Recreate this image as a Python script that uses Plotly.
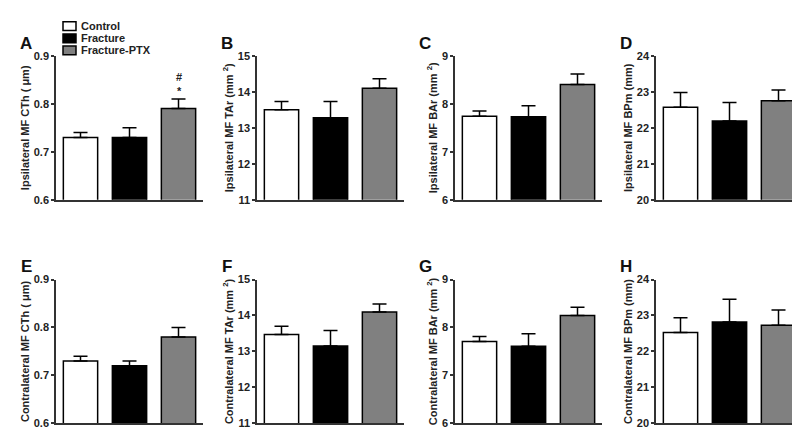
import plotly.graph_objects as go

groups = ["Control", "Fracture", "Fracture-PTX"]
bar_colors = ["#ffffff", "#000000", "#808080"]

panel_letters = ["A", "B", "C", "D", "E", "F", "G", "H"]
y_titles = [
    "Ipsilateral MF CTh ( μm)",
    "Ipsilateral MF TAr (mm <sup>2</sup>)",
    "Ipsilateral MF BAr (mm <sup>2</sup>)",
    "Ipsilateral MF BPm (mm)",
    "Contralateral MF CTh ( μm)",
    "Contralateral MF TAr (mm <sup>2</sup>)",
    "Contralateral MF BAr (mm <sup>2</sup>)",
    "Contralateral MF BPm (mm)",
]
y_ranges = [[0.6, 0.9], [11, 15], [6, 9], [20, 24], [0.6, 0.9], [11, 15], [6, 9], [20, 24]]
y_dticks = [0.1, 1, 1, 1, 0.1, 1, 1, 1]

means = [
    [0.73, 0.73, 0.79],
    [13.50, 13.28, 14.10],
    [7.74, 7.73, 8.40],
    [22.57, 22.19, 22.75],
    [0.73, 0.72, 0.78],
    [13.47, 13.15, 14.10],
    [7.71, 7.61, 8.25],
    [22.53, 22.82, 22.73],
]
sems = [
    [0.01, 0.02, 0.02],
    [0.23, 0.45, 0.26],
    [0.11, 0.23, 0.22],
    [0.41, 0.51, 0.30],
    [0.01, 0.01, 0.02],
    [0.23, 0.43, 0.22],
    [0.10, 0.26, 0.17],
    [0.41, 0.63, 0.42],
]
sig_panel = 0
sig_group = 2
sig_text = "#<br>*"

W, H = 800, 437
col_left = [48, 249, 447, 648]
plot_w = 147
row_top = [43, 273]
plot_h = 148

FONT = "Liberation Sans, Arial, sans-serif"
AX = "#333333"

fig = go.Figure()
layout = {}
for i in range(8):
    r, c = divmod(i, 4)
    xa = "x" if i == 0 else f"x{i+1}"
    ya = "y" if i == 0 else f"y{i+1}"
    x0 = col_left[c] / W
    x1 = (col_left[c] + plot_w) / W
    y1 = 1 - row_top[r] / H
    y0 = 1 - (row_top[r] + plot_h) / H
    fig.add_trace(go.Bar(
        x=[0, 1, 2], y=means[i], width=0.7,
        marker=dict(color=bar_colors, line=dict(color="#000000", width=1.5)),
        error_y=dict(type="data", symmetric=False, array=sems[i],
                     arrayminus=[0, 0, 0], color="#000000", thickness=1.5, width=7),
        xaxis=xa, yaxis=ya, showlegend=False, hoverinfo="skip",
    ))
    layout["xaxis" if i == 0 else f"xaxis{i+1}"] = dict(
        domain=[x0, x1], anchor=ya, range=[-0.5, 2.5], showline=True,
        linecolor=AX, linewidth=1.5, showticklabels=False, ticks="",
        showgrid=False, zeroline=False, fixedrange=True,
    )
    layout["yaxis" if i == 0 else f"yaxis{i+1}"] = dict(
        domain=[y0, y1], anchor=xa, range=y_ranges[i], dtick=y_dticks[i],
        tick0=y_ranges[i][0], showline=True, linecolor=AX, linewidth=1.5,
        ticks="outside", ticklen=3, tickwidth=1.5, tickcolor=AX,
        tickfont=dict(family=FONT, size=11, color="#222222", weight="bold"),
        title=dict(text=y_titles[i], standoff=2,
                   font=dict(family=FONT, size=11, color="#222222", weight="bold")),
        showgrid=False, zeroline=False, fixedrange=True,
    )
    fig.add_annotation(
        x=(col_left[c] - 30) / W, y=1 - (row_top[r] - 13) / H, xref="paper", yref="paper",
        text=panel_letters[i], showarrow=False,
        font=dict(family=FONT, size=17, color="#111111", weight="bold"),
        xanchor="center", yanchor="middle",
    )

# significance marks above the Fracture-PTX bar in panel A
top_val = means[sig_panel][sig_group] + sems[sig_panel][sig_group]
fig.add_annotation(x=sig_group, y=top_val, xref="x", yref="y", text=sig_text,
                   showarrow=False, yanchor="bottom", yshift=0,
                   font=dict(family=FONT, size=11, color="#222222", weight="bold"))

# legend (drawn manually for tight spacing)
leg_y = [12.5, 25, 37.5]
for k, g in enumerate(groups):
    yc = leg_y[k]
    fig.add_shape(type="rect", xref="paper", yref="paper",
                  x0=55 / W, x1=68 / W, y0=1 - (yc + 4.5) / H, y1=1 - (yc - 4.5) / H,
                  fillcolor=bar_colors[k], line=dict(color="#000000", width=1.5))
    fig.add_annotation(x=71 / W, y=1 - yc / H, xref="paper", yref="paper", text=g,
                       showarrow=False, xanchor="left", yanchor="middle",
                       font=dict(family=FONT, size=11, color="#222222", weight="bold"))

fig.update_layout(
    width=W, height=H, margin=dict(l=0, r=0, t=0, b=0),
    paper_bgcolor="white", plot_bgcolor="white", showlegend=False,
    **layout,
)
fig.write_html("out.html")
